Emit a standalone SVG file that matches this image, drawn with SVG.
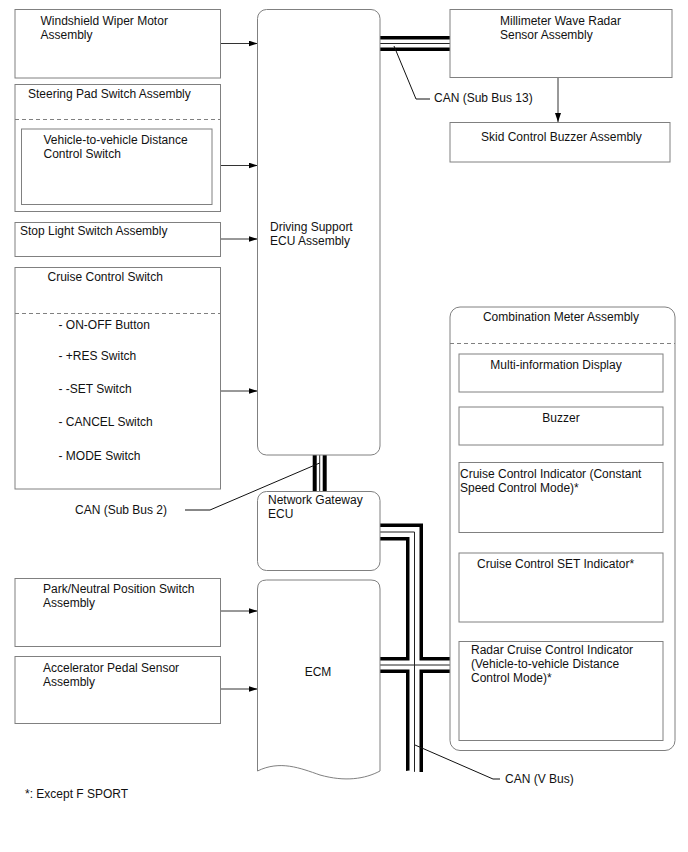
<svg xmlns="http://www.w3.org/2000/svg" width="688" height="852" viewBox="0 0 688 852">
<style>
  text { font-family: "Liberation Sans", Arial, sans-serif; font-size: 12px; fill: #111; }
  .box { fill: #fff; stroke: #808080; stroke-width: 1; }
  .dash { stroke: #808080; stroke-width: 1; stroke-dasharray: 4 3; fill: none; }
  .arr { stroke: #333; stroke-width: 1; fill: none; marker-end: url(#ah); }
  .lead { stroke: #111; stroke-width: 1; fill: none; }
  .bk { stroke: #000; fill: none; stroke-linejoin: miter; }
  .wh { stroke: #fff; fill: none; stroke-linejoin: miter; }
  .th { stroke: #222; stroke-width: 1; fill: none; stroke-linejoin: miter; }
  .c { text-anchor: middle; }
</style>
<defs>
  <marker id="ah" markerWidth="9" markerHeight="6" refX="9" refY="3" orient="auto" markerUnits="userSpaceOnUse">
    <path d="M0,0 L9,3 L0,6 Z" fill="#000"/>
  </marker>
</defs>
<rect width="688" height="852" fill="#fff"/>

<!-- Buses and connectors -->
<g id="connectors">
  <!-- CAN Sub Bus 13 -->
  <path class="bk" stroke-width="15" d="M380,43.5 H450"/>
  <path class="wh" stroke-width="8" d="M380,43.5 H450"/>
  <path class="th" d="M380,43.5 H450"/>
  <!-- CAN Sub Bus 2 -->
  <path class="bk" stroke-width="14" d="M319.7,455 V491.5"/>
  <path class="wh" stroke-width="6" d="M319.7,455 V491.5"/>
  <path class="th" d="M319.7,455 V491.5"/>
  <!-- CAN V Bus -->
  <path class="bk" stroke-width="17" d="M380,532 H414.5 V772"/>
  <path class="bk" stroke-width="16" d="M380,665 H450"/>
  <path class="wh" stroke-width="10" d="M380,532 H414.5 V772"/>
  <path class="wh" stroke-width="9" d="M380,665 H450"/>
  <path class="th" d="M380,532 H414.5 V772"/>
  <path class="th" d="M380,665 H450"/>
  <path d="M403,772 Q409,769 415,772 T427,772 V780 H403 Z" fill="#fff"/>

  <!-- leaders -->
  <polyline class="lead" points="394,46 416,99 430,99"/>
  <polyline class="lead" points="319.7,463 210,510 185,510"/>
  <polyline class="lead" points="415,745 493,779 500,779"/>

  <!-- arrows -->
  <line class="arr" x1="220.5" y1="43.5" x2="257.5" y2="43.5"/>
  <line class="arr" x1="212" y1="165.5" x2="257.5" y2="165.5"/>
  <line class="arr" x1="220.5" y1="239" x2="257.5" y2="239"/>
  <line class="arr" x1="220.5" y1="391" x2="257.5" y2="391"/>
  <line class="arr" x1="220.5" y1="611" x2="257.5" y2="611"/>
  <line class="arr" x1="220.5" y1="689" x2="257.5" y2="689"/>
  <line class="arr" x1="558" y1="77.5" x2="558" y2="122"/>
</g>

<!-- Left nodes -->
<g id="wiper">
  <rect class="box" x="15" y="9.5" width="205.5" height="68.5"/>
  <text x="40.5" y="25">Windshield Wiper Motor</text>
  <text x="40.5" y="39">Assembly</text>
</g>
<g id="steering-pad">
  <rect class="box" x="15" y="84.5" width="205.5" height="127"/>
  <text x="28" y="97.5">Steering Pad Switch Assembly</text>
  <line class="dash" x1="15" y1="119.5" x2="220.5" y2="119.5"/>
  <g id="distance-switch">
    <rect class="box" x="21.5" y="129" width="190.5" height="75.5"/>
    <text x="43.5" y="143.5">Vehicle-to-vehicle Distance</text>
    <text x="43.5" y="157.5">Control Switch</text>
  </g>
</g>
<g id="stop-light">
  <rect class="box" x="15" y="222.5" width="205.5" height="34"/>
  <text x="20" y="235">Stop Light Switch Assembly</text>
</g>
<g id="cruise-switch">
  <rect class="box" x="15" y="267.5" width="205.5" height="221.5"/>
  <text x="47.5" y="281">Cruise Control Switch</text>
  <line class="dash" x1="15" y1="313.5" x2="220.5" y2="313.5"/>
  <text x="58.5" y="328.5">- ON-OFF Button</text>
  <text x="58.5" y="360">- +RES Switch</text>
  <text x="58.5" y="392.5">- -SET Switch</text>
  <text x="58.5" y="425.5">- CANCEL Switch</text>
  <text x="58.5" y="460">- MODE Switch</text>
</g>
<g id="park-neutral">
  <rect class="box" x="15" y="578.5" width="205.5" height="68"/>
  <text x="43" y="593">Park/Neutral Position Switch</text>
  <text x="43" y="607">Assembly</text>
</g>
<g id="accel-pedal">
  <rect class="box" x="15" y="656.5" width="205.5" height="67"/>
  <text x="43" y="672">Accelerator Pedal Sensor</text>
  <text x="43" y="686">Assembly</text>
</g>

<!-- Center nodes -->
<g id="driving-support-ecu">
  <rect class="box" x="257.5" y="9.5" width="122.5" height="445.5" rx="9"/>
  <text x="270" y="231">Driving Support</text>
  <text x="270" y="245">ECU Assembly</text>
</g>
<g id="gateway-ecu">
  <rect class="box" x="257.5" y="491.5" width="122.5" height="79" rx="9"/>
  <text x="268" y="504">Network Gateway</text>
  <text x="268" y="518">ECU</text>
</g>
<g id="ecm">
  <path class="box" d="M257.5,589 Q257.5,580 266.5,580 H371 Q380,580 380,589 V771 C365,779 345,782 320,775 C300,768 280,760 257.5,771 Z"/>
  <text x="318" y="676" class="c">ECM</text>
</g>

<!-- Right nodes -->
<g id="radar-sensor">
  <rect class="box" x="450" y="9.5" width="222" height="68"/>
  <text x="500" y="25">Millimeter Wave Radar</text>
  <text x="500" y="39">Sensor Assembly</text>
</g>
<g id="skid-buzzer">
  <rect class="box" x="450" y="122.5" width="220" height="39.5"/>
  <text x="481" y="141">Skid Control Buzzer Assembly</text>
</g>
<g id="combination-meter">
  <rect class="box" x="450" y="307" width="225" height="443.5" rx="10"/>
  <text x="561" y="321" class="c">Combination Meter Assembly</text>
  <line class="dash" x1="450" y1="343.5" x2="675" y2="343.5"/>
  <g id="multi-info">
    <rect class="box" x="459" y="354" width="204" height="38"/>
    <text x="556" y="368.5" class="c">Multi-information Display</text>
  </g>
  <g id="meter-buzzer">
    <rect class="box" x="459" y="407" width="204" height="38"/>
    <text x="561" y="422" class="c">Buzzer</text>
  </g>
  <g id="cc-indicator">
    <rect class="box" x="459" y="462.5" width="204" height="70"/>
    <text x="460" y="478">Cruise Control Indicator (Constant</text>
    <text x="460" y="492">Speed Control Mode)*</text>
  </g>
  <g id="cc-set-indicator">
    <rect class="box" x="459" y="553" width="204" height="69"/>
    <text x="477" y="568">Cruise Control SET Indicator*</text>
  </g>
  <g id="radar-cc-indicator">
    <rect class="box" x="459" y="641.5" width="204" height="99"/>
    <text x="471" y="654">Radar Cruise Control Indicator</text>
    <text x="471" y="668">(Vehicle-to-vehicle Distance</text>
    <text x="471" y="682">Control Mode)*</text>
  </g>
</g>

<!-- Labels -->
<g id="labels">
  <text x="434" y="102">CAN (Sub Bus 13)</text>
  <text x="75" y="514">CAN (Sub Bus 2)</text>
  <text x="505" y="783">CAN (V Bus)</text>
  <text x="25" y="798">*: Except F SPORT</text>
</g>
</svg>
